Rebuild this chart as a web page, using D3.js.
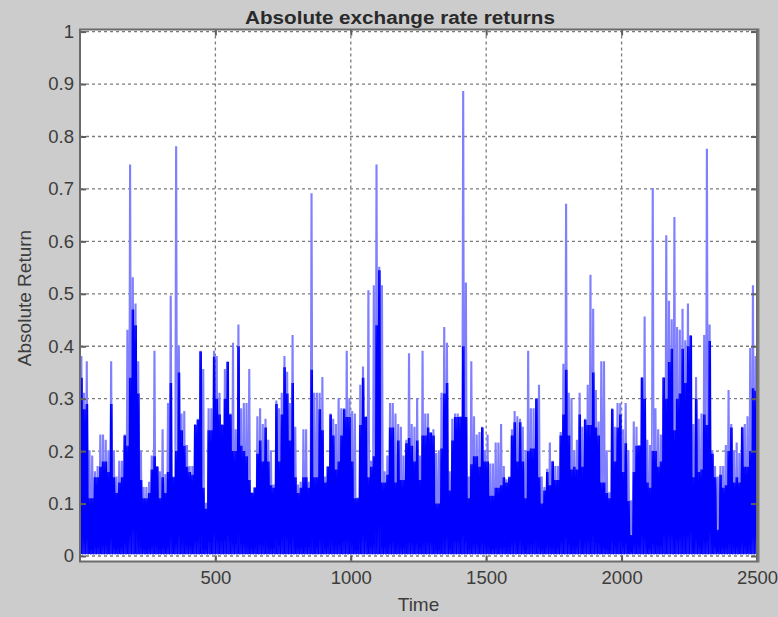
<!DOCTYPE html>
<html>
<head>
<meta charset="utf-8">
<script src="https://cdn.jsdelivr.net/npm/d3@7"></script>
<style>
  body { margin: 0; background: #cccccc; }
  svg { display: block; }
  text { font-family: "Liberation Sans", Arial, sans-serif; }
</style>
</head>
<body>
<svg width="778" height="617"></svg>
<script>
// absolute returns in bins of 10 time steps
// peak = highest spike in the bin, core = top of the dense part
var peak = [
  // 0 - 500
  0.38,0.31,0.37,0.2,0.19,0.16,0.17,0.23,0.23,0.22, 0.2,0.37,0.2,0.15,0.18,0.18,0.23,0.43,0.745,0.53,
  0.48,0.37,0.2,0.13,0.13,0.14,0.19,0.39,0.17,0.16, 0.24,0.155,0.29,0.495,0.15,0.78,0.40,0.27,0.275,0.21,
  0.17,0.17,0.25,0.26,0.39,0.355,0.1,0.28,0.28,0.39,
  // 500 - 1000
  0.38,0.31,0.25,0.355,0.37,0.27,0.405,0.24,0.44,0.28, 0.29,0.29,0.355,0.12,0.13,0.265,0.28,0.25,0.26,0.22,
  0.2,0.135,0.295,0.28,0.31,0.38,0.35,0.29,0.42,0.245, 0.135,0.14,0.24,0.24,0.14,0.69,0.31,0.31,0.31,0.34,
  0.15,0.17,0.27,0.26,0.25,0.3,0.28,0.28,0.39,0.3,
  // 1000 - 1500
  0.275,0.27,0.11,0.325,0.36,0.265,0.505,0.18,0.515,0.745, 0.55,0.515,0.16,0.19,0.29,0.29,0.27,0.25,0.245,0.19,
  0.22,0.385,0.25,0.245,0.3,0.19,0.39,0.27,0.27,0.235, 0.24,0.195,0.2,0.31,0.435,0.405,0.16,0.26,0.27,0.27,
  0.265,0.885,0.52,0.15,0.37,0.265,0.23,0.235,0.245,0.2,
  // 1500 - 2000
  0.23,0.175,0.175,0.215,0.215,0.25,0.17,0.145,0.15,0.24, 0.275,0.265,0.26,0.245,0.2,0.39,0.28,0.28,0.3,0.325,
  0.15,0.13,0.165,0.215,0.18,0.17,0.17,0.235,0.365,0.67, 0.31,0.3,0.2,0.22,0.31,0.245,0.26,0.325,0.535,0.47,
  0.315,0.255,0.37,0.37,0.2,0.12,0.28,0.245,0.29,0.29,
  // 2000 - 2500
  0.24,0.29,0.2,0.105,0.255,0.245,0.21,0.34,0.455,0.22, 0.21,0.70,0.28,0.24,0.23,0.34,0.61,0.485,0.45,0.645,
  0.435,0.43,0.47,0.41,0.48,0.42,0.25,0.34,0.26,0.27, 0.42,0.775,0.44,0.2,0.17,0.15,0.17,0.17,0.21,0.315,
  0.25,0.2,0.215,0.195,0.245,0.25,0.265,0.395,0.515,0.38
];
var core = [
  // 0 - 500
  0.34,0.28,0.29,0.11,0.11,0.15,0.15,0.17,0.18,0.18, 0.16,0.29,0.15,0.12,0.14,0.15,0.23,0.21,0.34,0.47,
  0.44,0.31,0.145,0.11,0.11,0.12,0.165,0.19,0.17,0.11, 0.15,0.12,0.16,0.33,0.15,0.2,0.35,0.24,0.21,0.17,
  0.16,0.155,0.25,0.26,0.39,0.13,0.09,0.24,0.24,0.38,
  // 500 - 1000
  0.3,0.27,0.25,0.30,0.37,0.27,0.2,0.2,0.40,0.21, 0.2,0.19,0.145,0.12,0.13,0.195,0.22,0.18,0.245,0.18,
  0.135,0.13,0.29,0.18,0.27,0.36,0.31,0.22,0.33,0.15, 0.12,0.13,0.15,0.15,0.13,0.355,0.15,0.15,0.28,0.24,
  0.14,0.17,0.27,0.23,0.165,0.18,0.23,0.28,0.265,0.265,
  // 1000 - 1500
  0.18,0.11,0.11,0.25,0.34,0.265,0.15,0.17,0.19,0.44, 0.545,0.14,0.14,0.155,0.245,0.245,0.14,0.22,0.145,0.145,
  0.215,0.225,0.21,0.18,0.22,0.145,0.23,0.23,0.245,0.235, 0.23,0.1,0.1,0.205,0.31,0.33,0.125,0.22,0.265,0.265,
  0.265,0.4,0.265,0.11,0.175,0.19,0.19,0.17,0.245,0.18,
  // 1500 - 2000
  0.18,0.115,0.115,0.13,0.13,0.135,0.15,0.14,0.15,0.23, 0.255,0.18,0.255,0.18,0.11,0.2,0.205,0.205,0.3,0.15,
  0.1,0.125,0.16,0.135,0.18,0.145,0.145,0.23,0.27,0.355, 0.23,0.165,0.17,0.165,0.27,0.17,0.26,0.25,0.25,0.35,
  0.245,0.23,0.14,0.14,0.12,0.11,0.28,0.18,0.245,0.27,
  // 2000 - 2500
  0.16,0.215,0.105,0.04,0.16,0.21,0.21,0.34,0.3,0.14, 0.13,0.2,0.2,0.17,0.18,0.34,0.3,0.37,0.395,0.24,
  0.30,0.31,0.395,0.33,0.4,0.42,0.15,0.30,0.16,0.165, 0.27,0.25,0.41,0.195,0.15,0.05,0.155,0.13,0.135,0.2,
  0.245,0.14,0.15,0.14,0.245,0.17,0.17,0.2,0.32,0.315
];
var binSize = 10;
var floorValue = 0.004;   // where the band bottoms out, just above zero
var xTicks = [500, 1000, 1500, 2000, 2500];
var yTicks = [0, 0.1, 0.2, 0.3, 0.4, 0.5, 0.6, 0.7, 0.8, 0.9, 1];

var svg = d3.select("svg");

var x = d3.scaleLinear().domain([0, 2500]).range([80, 757]);
var y = d3.scaleLinear().domain([-0.0105, 1.004]).range([561.5, 29.5]);

var boxL = x.range()[0], boxR = x.range()[1],
    boxT = y.range()[1], boxB = y.range()[0];

svg.append("rect")
    .attr("x", boxL).attr("y", boxT)
    .attr("width", boxR - boxL).attr("height", boxB - boxT)
    .attr("fill", "#ffffff");

svg.append("clipPath").attr("id", "plot")
  .append("rect")
    .attr("x", boxL).attr("y", boxT)
    .attr("width", boxR - boxL).attr("height", boxB - boxT);

// dashed grid
var grid = svg.append("g").attr("stroke", "#7c7c7c").attr("stroke-width", 1.3)
    .attr("stroke-dasharray", "3,3");
grid.selectAll(".gx").data(xTicks).enter().append("line")
    .attr("x1", function (d) { return x(d); }).attr("x2", function (d) { return x(d); })
    .attr("y1", boxT).attr("y2", boxB);
grid.selectAll(".gy").data(yTicks).enter().append("line")
    .attr("x1", boxL).attr("x2", boxR)
    .attr("y1", function (d) { return y(d); }).attr("y2", function (d) { return y(d); });

// series: thin spikes (light) and the dense band (blue)
var lightPts = [], darkPts = [];
peak.forEach(function (v, i) {
    var t = i * binSize;
    lightPts.push([t + 0.5, floorValue], [t + 4, v], [t + 6, v], [t + 9.5, floorValue]);
});
core.forEach(function (v, i) {
    var t = i * binSize;
    darkPts.push([t + 0.5, floorValue], [t + 3, v], [t + 5.5, floorValue], [t + 8, v]);
});

var line = d3.line()
    .x(function (d) { return x(d[0]); })
    .y(function (d) { return y(d[1]); });

var plot = svg.append("g").attr("clip-path", "url(#plot)");
plot.append("path").datum(lightPts)
    .attr("d", line).attr("fill", "none")
    .attr("stroke", "#8080ff").attr("stroke-width", 1.6);
plot.append("path").datum(darkPts)
    .attr("d", line).attr("fill", "none")
    .attr("stroke", "#0000ff").attr("stroke-width", 1.2);

// axes (ticks point inwards, matlab style)
function styleAxis(g) {
    g.select(".domain").remove();
    g.selectAll(".tick line").attr("stroke", "#5e5e5e").attr("stroke-width", 2);
    g.selectAll(".tick text").attr("fill", "#3c3c3c").style("font-size", "18.5px");
}
svg.append("g").attr("transform", "translate(0," + boxB + ")")
    .call(d3.axisBottom(x).tickValues(xTicks).tickSizeInner(-6).tickSizeOuter(0).tickPadding(9)
        .tickFormat(function (d) { return String(d); }))
    .call(styleAxis);
svg.append("g").attr("transform", "translate(0," + boxT + ")")
    .call(d3.axisTop(x).tickValues(xTicks).tickSizeInner(-6).tickSizeOuter(0).tickFormat(""))
    .call(styleAxis);
svg.append("g").attr("transform", "translate(" + boxL + ",0)")
    .call(d3.axisLeft(y).tickValues(yTicks).tickSizeInner(-6).tickSizeOuter(0).tickPadding(6)
        .tickFormat(function (d) { return String(d); }))
    .call(styleAxis);
svg.append("g").attr("transform", "translate(" + boxR + ",0)")
    .call(d3.axisRight(y).tickValues(yTicks).tickSizeInner(-6).tickSizeOuter(0).tickFormat(""))
    .call(styleAxis);

// box, the right edge is drawn heavier in the picture
svg.append("rect")
    .attr("x", boxL).attr("y", boxT)
    .attr("width", boxR - boxL).attr("height", boxB - boxT)
    .attr("fill", "none").attr("stroke", "#6a6a6a").attr("stroke-width", 2);
svg.append("line")
    .attr("x1", boxR + 1.5).attr("x2", boxR + 1.5).attr("y1", boxT - 1).attr("y2", boxB + 1)
    .attr("stroke", "#7a7a7a").attr("stroke-width", 2);

// labels
svg.append("text")
    .attr("x", 400).attr("y", 24)
    .attr("text-anchor", "middle")
    .attr("textLength", 310).attr("lengthAdjust", "spacingAndGlyphs")
    .style("font-size", "18px").style("font-weight", "bold").attr("fill", "#2a2a2a")
    .text("Absolute exchange rate returns");

svg.append("text")
    .attr("x", (boxL + boxR) / 2).attr("y", 611)
    .attr("text-anchor", "middle")
    .style("font-size", "19px").attr("fill", "#3c3c3c")
    .text("Time");

svg.append("text")
    .attr("transform", "translate(31,298) rotate(-90)")
    .attr("text-anchor", "middle")
    .style("font-size", "19px").attr("fill", "#3c3c3c")
    .text("Absolute Return");
</script>
</body>
</html>
